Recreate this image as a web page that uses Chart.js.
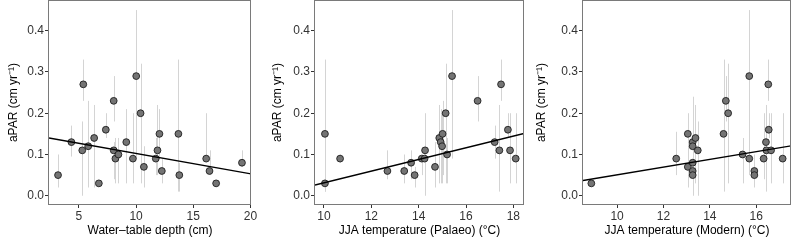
<!DOCTYPE html>
<html lang="en">
<head>
<meta charset="UTF-8">
<title>aPAR scatter panels</title>
<script src="https://cdn.jsdelivr.net/npm/chart.js"></script>
<style>
  html, body { margin: 0; padding: 0; background: #fff; }
  #wrap { display: flex; width: 792px; height: 240px; }
  canvas { display: block; }
</style>
</head>
<body>
<div id="wrap">
  <canvas id="c1" width="264" height="240"></canvas>
  <canvas id="c2" width="264" height="240"></canvas>
  <canvas id="c3" width="264" height="240"></canvas>
</div>
<script>
// y axis shared by all panels
const yTicks = [0, 0.1, 0.2, 0.3, 0.4];
const yTitle = 'aPAR (cm yr\u207B\u00B9)';

// panel 1: water-table depth
const depthX  = [3.17, 4.34, 5.38, 5.29, 5.81, 6.33, 6.74, 7.35, 8.04, 8.04, 8.19, 8.45, 9.14, 9.72, 10.01, 10.39, 10.68, 11.72, 11.87, 12.04, 12.25, 13.70, 13.78, 16.13, 16.42, 17.0, 19.26];
const depthY  = [0.05, 0.13, 0.27, 0.11, 0.12, 0.14, 0.03, 0.16, 0.23, 0.11, 0.09, 0.10, 0.13, 0.09, 0.29, 0.20, 0.07, 0.09, 0.11, 0.15, 0.06, 0.15, 0.05, 0.09, 0.06, 0.03, 0.08];
const depthLo = [0.02, 0.095, 0.23, 0.0, 0.02, 0.02, 0.03, 0.14, 0.18, 0.04, 0.03, 0.03, 0.03, 0.03, 0.09, 0.03, 0.02, 0.05, 0.05, 0.09, 0.03, 0.01, 0.01, 0.09, 0.05, 0.03, 0.07];
const depthHi = [0.10, 0.17, 0.33, 0.18, 0.23, 0.22, 0.03, 0.20, 0.29, 0.13, 0.14, 0.14, 0.21, 0.20, 0.45, 0.32, 0.12, 0.14, 0.22, 0.21, 0.09, 0.33, 0.08, 0.20, 0.11, 0.03, 0.11];
const depthFitX = [2.38, 20.05];
const depthFitY = [0.140, 0.053];
const depthTicks = [5, 10, 15, 20];

// panel 2: JJA temperature (palaeo)
const palaeoX  = [10.04, 10.04, 10.68, 12.68, 13.39, 13.68, 13.83, 14.13, 14.25, 14.27, 14.69, 14.87, 14.93, 14.99, 15.01, 15.14, 15.20, 15.41, 16.49, 17.21, 17.41, 17.48, 17.77, 17.86, 18.10];
const palaeoY  = [0.15, 0.03, 0.09, 0.06, 0.06, 0.08, 0.05, 0.09, 0.09, 0.11, 0.07, 0.14, 0.13, 0.12, 0.15, 0.20, 0.10, 0.29, 0.23, 0.13, 0.11, 0.27, 0.16, 0.11, 0.09];
const palaeoLo = [0.01, 0.01, 0.08, 0.04, 0.03, 0.04, 0.02, 0.05, 0.0, 0.04, 0.02, 0.03, 0.03, 0.03, 0.05, 0.03, 0.03, 0.09, 0.18, 0.09, 0.01, 0.23, 0.14, 0.03, 0.03];
const palaeoHi = [0.33, 0.05, 0.10, 0.11, 0.10, 0.11, 0.07, 0.10, 0.20, 0.18, 0.13, 0.22, 0.21, 0.20, 0.23, 0.32, 0.14, 0.45, 0.29, 0.17, 0.22, 0.33, 0.20, 0.20, 0.20];
const palaeoFitX = [9.62, 18.45];
const palaeoFitY = [0.026, 0.151];
const palaeoTicks = [10, 12, 14, 16, 18];

// panel 3: JJA temperature (modern)
const modernX  = [8.89, 12.55, 13.05, 13.05, 13.26, 13.26, 13.26, 13.26, 13.26, 13.38, 13.48, 14.59, 14.69, 14.79, 15.41, 15.70, 15.70, 15.92, 15.92, 16.32, 16.42, 16.44, 16.52, 16.54, 16.64, 17.14];
const modernY  = [0.03, 0.09, 0.15, 0.07, 0.13, 0.12, 0.08, 0.06, 0.05, 0.14, 0.11, 0.15, 0.23, 0.20, 0.10, 0.29, 0.09, 0.06, 0.05, 0.09, 0.13, 0.11, 0.27, 0.16, 0.11, 0.09];
const modernLo = [0.03, 0.05, 0.02, 0.04, 0.02, 0.03, 0.0, 0.03, 0.02, 0.03, 0.0, 0.01, 0.18, 0.03, 0.03, 0.09, 0.05, 0.03, 0.02, 0.04, 0.09, 0.01, 0.23, 0.14, 0.03, 0.03];
const modernHi = [0.03, 0.155, 0.20, 0.10, 0.24, 0.20, 0.18, 0.10, 0.08, 0.22, 0.18, 0.33, 0.29, 0.32, 0.14, 0.45, 0.10, 0.10, 0.07, 0.20, 0.21, 0.22, 0.33, 0.20, 0.20, 0.20];
const modernFitX = [8.53, 17.5];
const modernFitY = [0.037, 0.121];
const modernTicks = [10, 12, 14, 16];

const FONT = { family: '"Liberation Sans", Arial, sans-serif', size: 12 };

// light grey error bars behind the points, grey frame round the panel
const panelPlugin = {
  id: 'panel',
  beforeDatasetsDraw(chart, args, opts) {
    const ctx = chart.ctx, xs = chart.scales.x, ys = chart.scales.y;
    ctx.save();
    ctx.strokeStyle = '#d4d4d4';
    ctx.lineWidth = 1;
    opts.x.forEach((x, i) => {
      if (opts.hi[i] - opts.lo[i] < 0.005) return;
      const px = Math.round(xs.getPixelForValue(x)) + 0.5;
      ctx.beginPath();
      ctx.moveTo(px, ys.getPixelForValue(opts.lo[i]));
      ctx.lineTo(px, ys.getPixelForValue(opts.hi[i]));
      ctx.stroke();
    });
    ctx.restore();
  },
  afterDraw(chart) {
    const a = chart.chartArea, ctx = chart.ctx;
    ctx.save();
    ctx.strokeStyle = '#7a7a7a';
    ctx.lineWidth = 1;
    ctx.strokeRect(Math.round(a.left) - 0.5, Math.round(a.top) - 0.5,
                   Math.round(a.right - a.left), Math.round(a.bottom - a.top) + 1);
    ctx.restore();
  }
};

function makePanel(id, xs, ys, lo, hi, fitX, fitY, xMin, xMax, xTicks, xTitle, yWidth, padRight) {
  new Chart(document.getElementById(id), {
    type: 'scatter',
    data: {
      datasets: [
        {
          type: 'line',
          data: fitX.map((x, i) => ({ x: x, y: fitY[i] })),
          borderColor: '#000',
          borderWidth: 1.4,
          pointRadius: 0,
          fill: false
        },
        {
          data: xs.map((x, i) => ({ x: x, y: ys[i] })),
          backgroundColor: '#747474',
          borderColor: '#1e1e1e',
          borderWidth: 0.9,
          pointRadius: 3.4,
          pointHoverRadius: 3.4
        }
      ]
    },
    options: {
      responsive: false,
      animation: false,
      events: [],
      layout: { autoPadding: false, padding: { top: 1, right: padRight, left: 0, bottom: 0 } },
      plugins: {
        legend: { display: false },
        tooltip: { enabled: false },
        panel: { x: xs, lo: lo, hi: hi }
      },
      scales: {
        x: {
          type: 'linear',
          min: xMin,
          max: xMax,
          afterBuildTicks: s => { s.ticks = xTicks.map(v => ({ value: v })); },
          afterFit: s => { s.height = 36; s.paddingLeft = 0; s.paddingRight = 0; },
          grid: { drawOnChartArea: false, drawTicks: true, tickLength: 4, color: '#333' },
          border: { display: false },
          ticks: { font: FONT, color: '#333', padding: 1, maxRotation: 0 },
          title: { display: true, text: xTitle, font: FONT, color: '#000', padding: { top: 0, bottom: 2 } }
        },
        y: {
          type: 'linear',
          min: -0.02,
          max: 0.472,
          afterBuildTicks: s => { s.ticks = yTicks.map(v => ({ value: v })); },
          afterFit: s => { s.width = yWidth; s.paddingTop = 0; s.paddingBottom = 0; },
          grid: { drawOnChartArea: false, drawTicks: true, tickLength: 4, color: '#333' },
          border: { display: false },
          ticks: { font: FONT, color: '#333', padding: 1, callback: v => v.toFixed(1) },
          title: { display: true, text: yTitle, font: FONT, color: '#000', padding: { top: 6, bottom: 0 } }
        }
      }
    },
    plugins: [panelPlugin]
  });
}

makePanel('c1', depthX, depthY, depthLo, depthHi, depthFitX, depthFitY, 2.38, 20.05, depthTicks,
          'Water\u2013table depth (cm)', 49, 13);
makePanel('c2', palaeoX, palaeoY, palaeoLo, palaeoHi, palaeoFitX, palaeoFitY, 9.62, 18.45, palaeoTicks,
          'JJA temperature (Palaeo) (\u00B0C)', 51, 4);
makePanel('c3', modernX, modernY, modernLo, modernHi, modernFitX, modernFitY, 8.53, 17.5, modernTicks,
          'JJA temperature (Modern) (\u00B0C)', 55, 1);
</script>
</body>
</html>
